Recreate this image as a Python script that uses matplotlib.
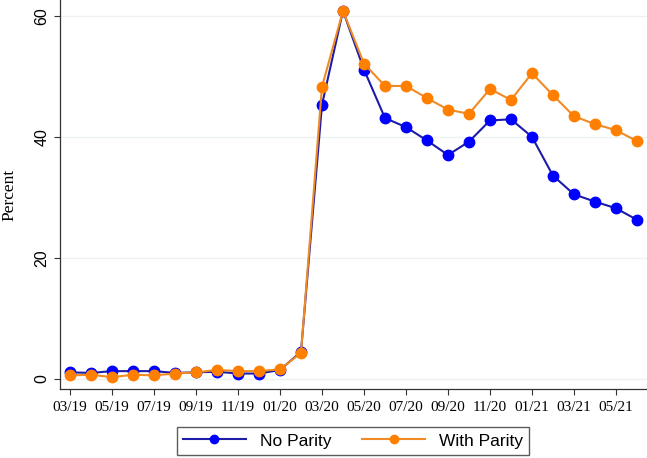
import matplotlib.pyplot as plt
import numpy as np

months = ["03/19", "04/19", "05/19", "06/19", "07/19", "08/19", "09/19", "10/19",
          "11/19", "12/19", "01/20", "02/20", "03/20", "04/20", "05/20", "06/20",
          "07/20", "08/20", "09/20", "10/20", "11/20", "12/20", "01/21", "02/21",
          "03/21", "04/21", "05/21", "06/21"]

no_parity = [1.1, 1.0, 1.3, 1.3, 1.3, 1.0, 1.1, 1.2, 0.9, 0.9, 1.5, 4.5,
             45.3, 60.8, 51.1, 43.1, 41.6, 39.4, 37.0, 39.2, 42.7, 42.9,
             40.0, 33.6, 30.5, 29.3, 28.2, 26.3]
with_parity = [0.6, 0.7, 0.3, 0.7, 0.6, 0.9, 1.1, 1.5, 1.3, 1.3, 1.6, 4.3,
               48.3, 60.8, 52.1, 48.4, 48.4, 46.4, 44.5, 43.8, 47.9, 46.1,
               50.5, 46.9, 43.4, 42.1, 41.1, 39.3]

x = np.arange(len(months))

fig = plt.figure(figsize=(6.47, 4.58), dpi=100)
ax = fig.add_axes([0.0927, 0.1507, 0.9073, 0.8493])

ax.plot(x, no_parity, color="#1c1ca8", lw=1.5, marker="o", ms=7.5,
        mfc="#0000ff", mec="#0000ff", label="No Parity", zorder=3)
ax.plot(x, with_parity, color="#f08a24", lw=1.5, marker="o", ms=7.5,
        mfc="#ff8000", mec="#ff8000", label="With Parity", zorder=3)

ax.set_xlim(-0.48, 27.48)
ax.set_ylim(-1.65, 62.6)
ax.set_xticks(x[::2])
ax.set_xticklabels(months[::2], family="Liberation Serif", fontsize=11)
ax.set_yticks([0, 20, 40, 60])
ax.set_yticklabels(["0", "20", "40", "60"], family="Liberation Sans",
                   fontsize=11.5, rotation=90, va="center")
ax.tick_params(axis="both", length=4, width=0.8, color="#333333")
ax.tick_params(axis="x", pad=5)
ax.set_ylabel("Percent", family="Liberation Serif", fontsize=12.5, labelpad=12)

ax.grid(axis="y", color="#eef1f1", lw=1)
ax.set_axisbelow(True)
for side in ["top", "right"]:
    ax.spines[side].set_visible(False)
for side in ["left", "bottom"]:
    ax.spines[side].set_color("#333333")
    ax.spines[side].set_linewidth(0.9)

leg = fig.legend(loc="center", bbox_to_anchor=(353 / 647, 1 - 441 / 458), ncol=2,
                 prop={"family": "Liberation Sans", "size": 12.5},
                 markerscale=0.8, handlelength=3.6, columnspacing=1.8,
                 frameon=True, fancybox=False, edgecolor="#333333",
                 borderpad=0.35, handletextpad=0.8)
leg.get_frame().set_linewidth(1.0)

fig.savefig("out.png", dpi=100)
